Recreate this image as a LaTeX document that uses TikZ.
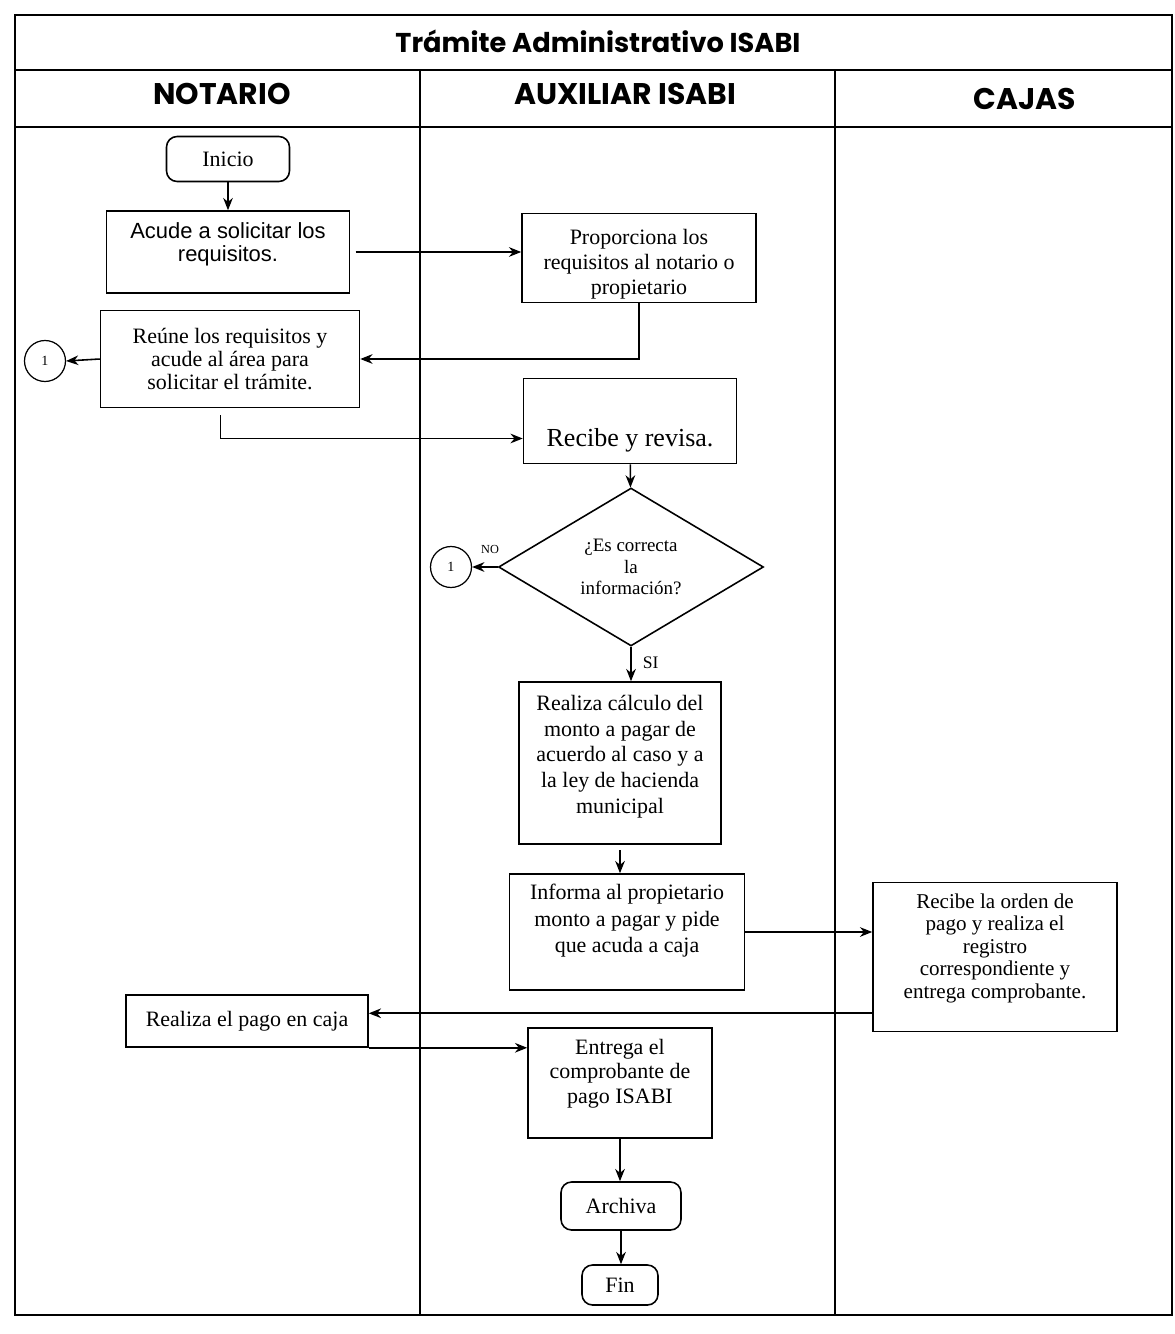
\documentclass[tikz,border=0pt]{standalone}
\usepackage{fontspec}
\setmainfont{Liberation Serif}
\newfontfamily\gothicfont{Poppins}
\newfontfamily\arialfont{Liberation Sans}
\usetikzlibrary{shapes.geometric,arrows.meta}

% text at the top of a fixed box: width, height, top pad, lines
\newcommand{\toptext}[4]{\parbox[c][#2][t]{#1}{\centering\vspace*{#3}#4}}

\tikzset{
  proc/.style={draw, line width=0.9pt, rectangle, align=center, inner sep=1pt,
    font=\fontsize{12.5}{14}\selectfont},
  tbox/.style={draw, line width=0.9pt, rectangle, inner sep=0pt,
    font=\fontsize{12.5}{14.5}\selectfont},
  term/.style={draw, line width=0.9pt, rounded corners=6pt, align=center,
    font=\fontsize{12.5}{14}\selectfont},
  conn/.style={draw, circle, line width=0.7pt, minimum size=0.82cm, inner sep=0pt,
    font=\fontsize{8}{9}\selectfont},
  flow/.style={-{Stealth[length=7pt,width=5.5pt]}, line width=0.9pt},
  lanehead/.style={font=\gothicfont\bfseries\fontsize{17}{20}\selectfont}
}

\begin{document}
\begin{tikzpicture}[x=0.02cm, y=-0.02cm]
  \useasboundingbox (0,0) rectangle (1175,1334);

  % frame and lanes
  \draw[line width=1.2pt] (15,15) rectangle (1172,1315);
  \draw[line width=1.2pt] (15,70) -- (1172,70);
  \draw[line width=1.2pt] (15,127) -- (1172,127);
  \draw[line width=0.8pt] (420,70) -- (420,1315);
  \draw[line width=0.8pt] (835,70) -- (835,1315);

  \node[font=\gothicfont\bfseries\fontsize{15.5}{18}\selectfont] (title) at (598,41) {Trámite Administrativo ISABI};
  \node[lanehead] (notario) at (222,94) {NOTARIO};
  \node[lanehead] (auxiliar) at (625,94) {AUXILIAR ISABI};
  \node[lanehead] (cajas) at (1025,99) {CAJAS};

  % notario
  \node[term, minimum width=2.46cm, minimum height=0.9cm] (inicio) at (228,159) {Inicio};
  \node[tbox, font=\arialfont\fontsize{12.5}{12.8}\selectfont] (acude) at (228,252)
    {\toptext{4.86cm}{1.64cm}{0.24cm}{Acude a solicitar los\\requisitos.}};
  \node[proc, minimum width=5.18cm, minimum height=1.94cm, font=\fontsize{12.5}{13.3}\selectfont]
    (reune) at (230,359) {Reúne los requisitos y\\acude al área para\\solicitar el trámite.};
  \node[conn] (c1a) at (45,361) {1};
  \node[proc, minimum width=4.84cm, minimum height=1.04cm] (pago) at (247,1021) {Realiza el pago en caja};

  % auxiliar
  \node[tbox, font=\fontsize{12.5}{14.2}\selectfont] (proporciona) at (639,258)
    {\toptext{4.68cm}{1.78cm}{0.32cm}{Proporciona los\\requisitos al notario o\\propietario}};
  \node[tbox, font=\fontsize{14.8}{17}\selectfont] (recibe) at (630,421)
    {\toptext{4.26cm}{1.7cm}{1.0cm}{Recibe y revisa.}};
  \node[draw, diamond, line width=0.9pt, minimum width=5.3cm, minimum height=3.16cm, inner sep=0pt,
    align=center, font=\fontsize{10.8}{12}\selectfont] (decision) at (631,567) {¿Es correcta\\la\\información?};
  \node[conn] (c1b) at (451,567) {1};
  \node[tbox, font=\fontsize{12.5}{14.7}\selectfont] (calculo) at (620,763)
    {\toptext{4.04cm}{3.24cm}{0.26cm}{Realiza cálculo del\\monto a pagar de\\acuerdo al caso y a\\la ley de hacienda\\municipal}};
  \node[tbox, font=\fontsize{12.5}{15.2}\selectfont] (informa) at (627,932)
    {\toptext{4.7cm}{2.32cm}{0.2cm}{Informa al propietario\\monto a pagar y pide\\que acuda a caja}};
  \node[tbox, font=\fontsize{12.5}{14}\selectfont] (entrega) at (620,1083)
    {\toptext{3.68cm}{2.2cm}{0.22cm}{Entrega el\\comprobante de\\pago ISABI}};
  \node[term, minimum width=2.4cm, minimum height=0.96cm] (archiva) at (621,1206) {Archiva};
  \node[term, minimum width=1.52cm, minimum height=0.8cm] (fin) at (620,1285) {Fin};

  % cajas
  \node[tbox, font=\fontsize{12}{12.8}\selectfont] (orden) at (995,957)
    {\toptext{4.88cm}{2.98cm}{0.22cm}{Recibe la orden de\\pago y realiza el\\registro\\correspondiente y\\entrega comprobante.}};

  % connectors
  \draw[flow] (inicio) -- (acude);
  \draw[flow, shorten <=3pt] (acude.east) -- (acude.east -| proporciona.west);
  \draw[flow] (proporciona.south) |- (reune.east);
  \draw[flow] (reune.west) -- (c1a.east);
  \draw[flow, shorten <=4pt] ([xshift=-0.19cm]reune.south) |- ([yshift=-0.35cm]recibe.west);
  \draw[flow] (recibe) -- (decision);
  \draw[flow] (decision.west) -- node[pos=0.3, above, yshift=4pt, font=\fontsize{7}{8}\selectfont] {NO} (c1b.east);
  \draw[flow] (decision.south) -- node[pos=0.45, right, xshift=3pt, font=\fontsize{10}{12}\selectfont] {SI} (decision.south |- calculo.north);
  \draw[flow, shorten <=3pt] (calculo.south) -- (calculo.south |- informa.north);
  \draw[flow] (informa.east) -- (informa.east -| orden.west);
  \draw[flow] ([yshift=0.38cm]orden.south west) -- ([yshift=0.38cm]orden.south west -| pago.east);
  \draw[flow] (pago.south east) -- (pago.south east -| entrega.west);
  \draw[flow] (entrega.south) -- (entrega.south |- archiva.north);
  \draw[flow] (archiva) -- (archiva.south |- fin.north);
\end{tikzpicture}
\end{document}
